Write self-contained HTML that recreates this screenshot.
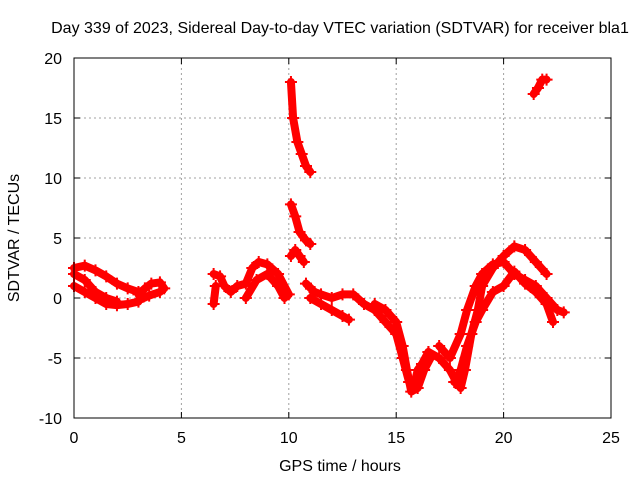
<!DOCTYPE html>
<html><head><meta charset="utf-8"><style>
body{margin:0;background:#fff}
svg{display:block}
text{font-family:"Liberation Sans",sans-serif;font-size:16px;fill:#000}
</style></head><body>
<svg id="chart" width="640" height="480">
<rect width="640" height="480" fill="#fff"/>
<g id="grid"></g>
<g id="marks"></g>
<rect x="74" y="58" width="537" height="360" fill="none" stroke="#000" stroke-width="1"/>
<g id="axes"></g>
<text x="340" y="33" text-anchor="middle">Day 339 of 2023, Sidereal Day-to-day VTEC variation (SDTVAR) for receiver bla1</text>
<text x="340" y="471" text-anchor="middle">GPS time / hours</text>
<text x="19" y="238" text-anchor="middle" transform="rotate(-90 19 238)">SDTVAR / TECUs</text>
</svg>
<script>
const xTicks=[0,5,10,15,20,25];
const yTicks=[-10,-5,0,5,10,15,20];
const trackA1=[[0,2.5],[0.5,2.7],[1,2.3],[1.5,1.8],[2,1.2],[2.5,0.8],[3,0.5]];
const trackA2=[[0,1],[0.5,0.5],[1,0],[1.5,-0.5],[2,-0.6],[2.5,-0.5],[3,-0.3]];
const trackA3=[[0,2],[0.5,1.5],[1,0.5],[1.5,0],[2,-0.3]];
const trackB1=[[3,0.3],[3.3,0.8],[3.6,1.2],[4,1.3],[4.2,0.8]];
const trackB2=[[3,-0.2],[3.5,0.2],[4,0.5]];
const trackC1=[[6.5,2],[6.8,1.8],[7,1],[7.3,0.5],[7.6,1],[8,1.2],[8.3,2.5],[8.6,3],[9,2.8],[9.5,2],[10,0.3]];
const trackC2=[[6.5,-0.5],[6.6,1]];
const trackC3=[[8,0],[8.5,1.5],[9,2],[9.5,1],[9.8,0]];
const trackD=[[10.1,18],[10.2,15],[10.4,13],[10.6,12],[10.8,11],[11,10.5]];
const trackE=[[10.1,7.8],[10.3,6.8],[10.5,5.5],[10.8,4.8],[11,4.5]];
const trackF=[[10.1,3.5],[10.3,4],[10.5,3.5],[10.7,3]];
const trackG1=[[10.8,1.2],[11.2,0.5],[11.5,0.3],[12,0],[12.5,0.3],[13,0.3],[13.5,-0.5],[14,-1],[14.5,-2],[15,-3],[15.3,-5],[15.6,-7],[15.8,-7.5],[16,-6],[16.2,-5.5],[16.5,-4.5]];
const trackG2=[[11,0],[11.5,-0.5],[12,-1],[12.5,-1.5],[12.8,-1.8]];
const trackH=[[14,-0.5],[14.5,-1],[15,-2],[15.3,-4],[15.5,-6],[15.7,-7.8],[16,-7.5],[16.3,-6],[16.6,-5]];
const trackI=[[16.5,-4.5],[17,-5],[17.5,-6],[17.8,-7],[18,-7.5],[18.2,-6],[18.5,-3],[18.8,-1],[19,1],[19.5,2.5],[20,3.5],[20.5,4.3],[21,4],[21.5,3],[22,2]];
const trackJ=[[17,-4],[17.5,-5],[18,-3],[18.3,-1],[18.7,1],[19,2],[19.5,2.8],[20,3],[20.5,2],[21,1.5],[21.5,1],[22,0],[22.5,-1],[22.8,-1.2]];
const trackK=[[17.7,-7],[18,-6],[18.3,-4],[18.7,-2],[19,-1],[19.5,0.5],[20,1],[20.5,2.2],[21,1.2],[21.5,0.5],[22,-0.5],[22.3,-2]];
const trackL=[[21.4,17],[21.6,17.5],[21.8,18.2],[22,18.2]];
const tracks=[trackA1,trackA2,trackA3,trackB1,trackB2,trackC1,trackC2,trackC3,trackD,trackE,trackF,trackG1,trackG2,trackH,trackI,trackJ,trackK,trackL];
const NS='http://www.w3.org/2000/svg';
function xs(v){return 74+(v-0)/25*537;}
function ys(v){return 418-(v+10)/30*360;}
function mk(t,a){const e=document.createElementNS(NS,t);for(const k in a)e.setAttribute(k,a[k]);return e;}
const grid=document.getElementById('grid'),axes=document.getElementById('axes'),marks=document.getElementById('marks');
xTicks.forEach(v=>{
 const x=xs(v);
 if(v>0&&v<25){const l=mk('line',{x1:x,y1:58,x2:x,y2:418,stroke:'#a0a0a0','stroke-dasharray':'2,3'});grid.appendChild(l);}
 const t=mk('line',{x1:x,y1:418,x2:x,y2:412,stroke:'#000'});axes.appendChild(t);
 const t2=mk('line',{x1:x,y1:58,x2:x,y2:64,stroke:'#000'});axes.appendChild(t2);
 const tx=mk('text',{x:x,y:443,'text-anchor':'middle'});tx.textContent=v;axes.appendChild(tx);
});
yTicks.forEach(v=>{
 const y=ys(v);
 if(v>-10&&v<20){const l=mk('line',{x1:74,y1:y,x2:611,y2:y,stroke:'#a0a0a0','stroke-dasharray':'2,3'});grid.appendChild(l);}
 const t=mk('line',{x1:74,y1:y,x2:80,y2:y,stroke:'#000'});axes.appendChild(t);
 const t2=mk('line',{x1:611,y1:y,x2:605,y2:y,stroke:'#000'});axes.appendChild(t2);
 const tx=mk('text',{x:62,y:y+6,'text-anchor':'end'});tx.textContent=v;axes.appendChild(tx);
});
tracks.forEach(tr=>{
 const p=mk('polyline',{points:tr.map(d=>xs(d[0])+','+ys(d[1])).join(' '),fill:'none',stroke:'#ff0000','stroke-width':8,'stroke-linejoin':'round','stroke-linecap':'round'});
 
 
 marks.appendChild(p);
 tr.forEach(d=>{
  const x=xs(d[0]),y=ys(d[1]);
  const m=mk('path',{d:`M${x-6},${y}H${x+6}M${x},${y-6}V${y+6}`,stroke:'#ff0000','stroke-width':2});
  
  
  marks.appendChild(m);
 });
});
</script>
</body></html>
